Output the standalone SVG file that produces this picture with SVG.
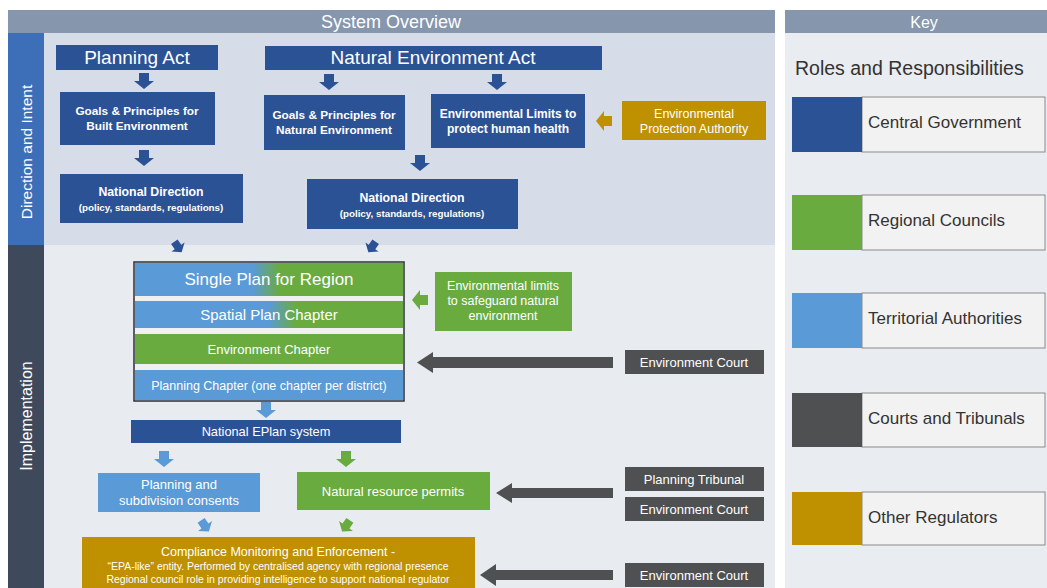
<svg xmlns="http://www.w3.org/2000/svg" width="1047" height="588" viewBox="0 0 1047 588">
<defs>
<style>
text{font-family:"Liberation Sans",Arial,sans-serif;fill:#fff;text-anchor:middle}
.cg{fill:#2c5296}
.rc{fill:#6aab3f}
.ta{fill:#5a9ad6}
.ct{fill:#4f5052}
.or{fill:#bf9000}
.k{fill:#333;text-anchor:start;font-size:17px}
.kb{fill:#f2f2f2;stroke:#8a8a8a;stroke-width:1}
.b{font-weight:bold}
</style>
<path id="ad" d="M-5,-8 H5 V0 H10 L0,8 L-10,0 H-5 Z"/>
<linearGradient id="g1" gradientUnits="userSpaceOnUse" x1="134" y1="0" x2="404" y2="0">
<stop offset="0.44" stop-color="#5a9ad6"/><stop offset="0.54" stop-color="#6aab3f"/>
</linearGradient>
<linearGradient id="g2" gradientUnits="userSpaceOnUse" x1="134" y1="0" x2="404" y2="0">
<stop offset="0.5" stop-color="#5a9ad6"/><stop offset="0.6" stop-color="#6aab3f"/>
</linearGradient>
</defs>
<rect width="1047" height="588" fill="#ffffff"/>
<!-- backgrounds -->
<rect x="8" y="10" width="767" height="23" fill="#8596ad"/>
<text x="391" y="28" font-size="18">System Overview</text>
<rect x="44" y="33" width="731" height="212" fill="#d6dde9"/>
<rect x="44" y="245" width="731" height="343" fill="#e8ebf0"/>
<rect x="8" y="33" width="36" height="212" fill="#3d6fb8"/>
<rect x="8" y="245" width="36" height="343" fill="#3e4a5c"/>
<text transform="translate(32,152) rotate(-90)" font-size="15.5">Direction and Intent</text>
<text transform="translate(32,416) rotate(-90)" font-size="16">Implementation</text>
<!-- key -->
<rect x="785" y="10" width="262" height="23" fill="#8596ad"/>
<text x="924" y="28" font-size="16">Key</text>
<rect x="785" y="33" width="262" height="555" fill="#e9ecf0"/>
<text x="795" y="75" class="k" style="font-size:19.5px">Roles and Responsibilities</text>
<g id="key-central">
<rect x="862" y="97" width="183" height="55" class="kb"/><rect x="792" y="97" width="70" height="55" class="cg"/>
<text x="868" y="128" class="k">Central Government</text></g>
<g id="key-regional">
<rect x="862" y="195" width="183" height="55" class="kb"/><rect x="792" y="195" width="70" height="55" class="rc"/>
<text x="868" y="226" class="k">Regional Councils</text></g>
<g id="key-territorial">
<rect x="862" y="293" width="183" height="55" class="kb"/><rect x="792" y="293" width="70" height="55" class="ta"/>
<text x="868" y="324" class="k">Territorial Authorities</text></g>
<g id="key-courts">
<rect x="862" y="393" width="183" height="54" class="kb"/><rect x="792" y="393" width="70" height="54" class="ct"/>
<text x="868" y="424" class="k">Courts and Tribunals</text></g>
<g id="key-other">
<rect x="862" y="492" width="183" height="53" class="kb"/><rect x="792" y="492" width="70" height="53" class="or"/>
<text x="868" y="523" class="k">Other Regulators</text></g>
<!-- nodes -->
<g id="planning-act"><rect x="56" y="45" width="162" height="25" class="cg"/><text x="137" y="64" font-size="19">Planning Act</text></g>
<g id="goals-built"><rect x="60" y="92" width="155" height="53" class="cg"/>
<text x="137" y="115" font-size="11.8" class="b">Goals &amp; Principles for</text><text x="137" y="130" font-size="11.8" class="b">Built Environment</text></g>
<g id="natdir-left"><rect x="60" y="174" width="183" height="49" class="cg"/>
<text x="151" y="196" font-size="12.3" class="b">National Direction</text><text x="151" y="211" font-size="9.8" class="b">(policy, standards, regulations)</text></g>
<g id="nat-env-act"><rect x="265" y="46" width="337" height="24" class="cg"/><text x="433" y="64" font-size="19">Natural Environment Act</text></g>
<g id="goals-natural"><rect x="264" y="95" width="141" height="55" class="cg"/>
<text x="334" y="119" font-size="11.8" class="b">Goals &amp; Principles for</text><text x="334" y="134" font-size="11.8" class="b">Natural Environment</text></g>
<g id="env-limits-health"><rect x="431" y="94" width="154" height="54" class="cg"/>
<text x="508" y="118" font-size="12" class="b">Environmental Limits to</text><text x="508" y="133" font-size="12" class="b">protect human health</text></g>
<g id="epa"><rect x="622" y="101" width="144" height="39" class="or"/>
<text x="694" y="118" font-size="12.5">Environmental</text><text x="694" y="133" font-size="12.5">Protection Authority</text></g>
<g id="natdir-right"><rect x="307" y="179" width="211" height="50" class="cg"/>
<text x="412" y="202" font-size="12.3" class="b">National Direction</text><text x="412" y="217" font-size="9.8" class="b">(policy, standards, regulations)</text></g>
<g id="single-plan">
<rect x="134" y="262" width="270" height="139" fill="#eef0f2" stroke="#2a2f38" stroke-width="1.5"/>
<rect x="135" y="263" width="268" height="33" fill="url(#g1)"/>
<text x="269" y="285" font-size="17">Single Plan for Region</text>
<rect x="135" y="301" width="268" height="27" fill="url(#g2)"/>
<text x="269" y="320" font-size="15">Spatial Plan Chapter</text>
<rect x="135" y="334" width="268" height="30" class="rc"/>
<text x="269" y="354" font-size="13">Environment Chapter</text>
<rect x="135" y="370" width="268" height="30" class="ta"/>
<text x="269" y="390" font-size="12.5">Planning Chapter (one chapter per district)</text>
</g>
<g id="env-limits-natural"><rect x="435" y="272" width="137" height="59" class="rc"/>
<text x="503" y="290" font-size="12.5">Environmental limits</text><text x="503" y="305" font-size="12.5">to safeguard natural</text><text x="503" y="320" font-size="12.5">environment</text></g>
<g id="env-court-1"><rect x="625" y="350" width="139" height="24" class="ct"/><text x="694" y="367" font-size="13">Environment Court</text></g>
<g id="eplan"><rect x="131" y="420" width="270" height="23" class="cg"/><text x="266" y="436" font-size="12.8">National EPlan system</text></g>
<g id="planning-consents"><rect x="98" y="473" width="162" height="39" class="ta"/>
<text x="179" y="489" font-size="13">Planning and</text><text x="179" y="505" font-size="13">subdivision consents</text></g>
<g id="resource-permits"><rect x="297" y="472" width="193" height="38" class="rc"/><text x="393" y="496" font-size="13">Natural resource permits</text></g>
<g id="planning-tribunal"><rect x="625" y="467" width="139" height="24" class="ct"/><text x="694" y="484" font-size="13">Planning Tribunal</text></g>
<g id="env-court-2"><rect x="625" y="497" width="139" height="24" class="ct"/><text x="694" y="514" font-size="13">Environment Court</text></g>
<g id="compliance"><rect x="82" y="537" width="393" height="51" class="or"/>
<text x="278" y="556" font-size="12.5">Compliance Monitoring and Enforcement -</text>
<text x="278" y="570" font-size="10.5">“EPA-like” entity.  Performed by centralised agency with regional presence</text>
<text x="278" y="583" font-size="10.5">Regional council role in providing intelligence to support national regulator</text></g>
<g id="env-court-3"><rect x="625" y="563" width="139" height="24" class="ct"/><text x="694" y="580" font-size="13">Environment Court</text></g>
<!-- connectors -->
<g id="connectors">
<use href="#ad" transform="translate(144,81)" class="cg"/>
<use href="#ad" transform="translate(144,158)" class="cg"/>
<use href="#ad" transform="translate(329,82)" class="cg"/>
<use href="#ad" transform="translate(497,82)" class="cg"/>
<use href="#ad" transform="translate(420,163)" class="cg"/>
<use href="#ad" transform="translate(604,121) rotate(90)" class="or"/>
<use href="#ad" transform="translate(178,247) rotate(-35) scale(0.8)" class="cg"/>
<use href="#ad" transform="translate(372,247) rotate(35) scale(0.8)" class="cg"/>
<use href="#ad" transform="translate(420,300) rotate(90)" class="rc"/>
<use href="#ad" transform="translate(266,410)" class="ta"/>
<use href="#ad" transform="translate(164,459)" class="ta"/>
<use href="#ad" transform="translate(346,459)" class="rc"/>
<use href="#ad" transform="translate(205,526) rotate(-35) scale(0.85)" class="ta"/>
<use href="#ad" transform="translate(346,526) rotate(35) scale(0.85)" class="rc"/>
<path d="M613,357 H433 V352 L417,362.5 L433,373 V368 H613 Z" class="ct"/>
<path d="M613,488 H512 V483 L496,493 L512,503 V498 H613 Z" class="ct"/>
<path d="M613,570 H496 V564 L480,575 L496,586 V580 H613 Z" class="ct"/>
</g>
</svg>
